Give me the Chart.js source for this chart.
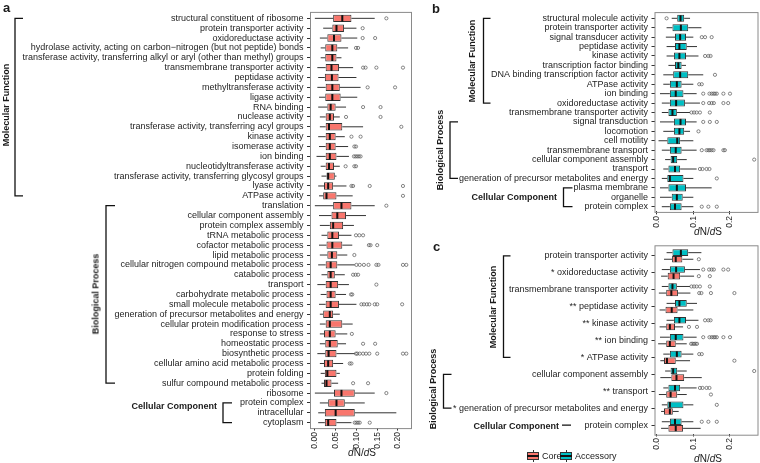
<!DOCTYPE html>
<html>
<head>
<meta charset="utf-8">
<title>dN/dS by GO category</title>
<script src="https://cdn.jsdelivr.net/npm/chart.js@4.4.1/dist/chart.umd.min.js"></script>
<style>
  html, body { margin: 0; padding: 0; background: #fff; }
  #fig { position: relative; width: 760px; height: 463px; overflow: hidden;
         font-family: "Liberation Sans", Arial, Helvetica, sans-serif; color: #1a1a1a; }
  #fig canvas { position: absolute; }
  .txt { position: absolute; white-space: nowrap; line-height: 1; }
  .letter { font-size: 13px; font-weight: bold; }
  .group { font-size: 9px; font-weight: bold; }
  .rot { transform: translate(-50%, -50%) rotate(-90deg); }
  .right { transform: translate(-100%, -50%); }
  .mid { transform: translate(-50%, -50%); }
  .axis-title { font-size: 10px; }
  .legend-text { font-size: 9px; transform: translateY(-50%); }
  .key { position: absolute; width: 12px; height: 12px; transform: translateY(-50%); }
  .key .wh { position: absolute; left: 5.5px; top: 0; width: 1px; height: 12px; background: #333; }
  .key .bx { position: absolute; left: 0; top: 2px; width: 10px; height: 6px; border: 1px solid #333; }
  .key .md { position: absolute; left: 0; top: 5.25px; width: 12px; height: 1.5px; background: #111; }
</style>
</head>
<body>
<div id="fig">
  <canvas id="chartA" width="415" height="463" style="left:0;top:0"></canvas>
  <canvas id="chartB" width="345" height="240" style="left:415px;top:0"></canvas>
  <canvas id="chartC" width="345" height="228" style="left:415px;top:235px"></canvas>

  <div class="txt letter" style="left:3px;top:1px">a</div>
  <div class="txt group rot" style="left:5.5px;top:105px">Molecular Function</div>
  <div class="txt group rot" style="left:95.5px;top:294px">Biological Process</div>
  <div class="txt group right" style="left:217px;top:406px">Cellular Component</div>
  <div class="txt axis-title mid" style="left:362px;top:453px"><i>d</i>N/<i>d</i>S</div>

  <div class="txt letter" style="left:432px;top:2px">b</div>
  <div class="txt group rot" style="left:471.5px;top:61px">Molecular Function</div>
  <div class="txt group rot" style="left:440px;top:150px">Biological Process</div>
  <div class="txt group right" style="left:557px;top:197px">Cellular Component</div>
  <div class="txt axis-title mid" style="left:708px;top:231.5px"><i>d</i>N/<i>d</i>S</div>

  <div class="txt letter" style="left:433px;top:240px">c</div>
  <div class="txt group rot" style="left:493px;top:306.5px">Molecular Function</div>
  <div class="txt group rot" style="left:433px;top:389px">Biological Process</div>
  <div class="txt group right" style="left:559px;top:426px">Cellular Component</div>
  <div class="txt axis-title mid" style="left:708px;top:459px"><i>d</i>N/<i>d</i>S</div>

  <div class="key" style="left:527px;top:456px"><div class="wh"></div><div class="bx" style="background:#F8766D"></div><div class="md"></div></div>
  <div class="txt legend-text" style="left:542px;top:456px">Core</div>
  <div class="key" style="left:560px;top:456px"><div class="wh"></div><div class="bx" style="background:#00BFC4"></div><div class="md"></div></div>
  <div class="txt legend-text" style="left:575px;top:456px">Accessory</div>
</div>

<script>
// ---- panel a: core genes, one box per GO term ----
const aLabels = [
  'structural constituent of ribosome', 'protein transporter activity', 'oxidoreductase activity',
  'hydrolase activity, acting on carbon\u2212nitrogen (but not peptide) bonds',
  'transferase activity, transferring alkyl or aryl (other than methyl) groups',
  'transmembrane transporter activity', 'peptidase activity', 'methyltransferase activity',
  'ligase activity', 'RNA binding', 'nuclease activity', 'transferase activity, transferring acyl groups',
  'kinase activity', 'isomerase activity', 'ion binding', 'nucleotidyltransferase activity',
  'transferase activity, transferring glycosyl groups', 'lyase activity', 'ATPase activity',
  'translation', 'cellular component assembly', 'protein complex assembly', 'tRNA metabolic process',
  'cofactor metabolic process', 'lipid metabolic process', 'cellular nitrogen compound metabolic process',
  'catabolic process', 'transport', 'carbohydrate metabolic process', 'small molecule metabolic process',
  'generation of precursor metabolites and energy', 'cellular protein modification process',
  'response to stress', 'homeostatic process', 'biosynthetic process', 'cellular amino acid metabolic process',
  'protein folding', 'sulfur compound metabolic process',
  'ribosome', 'protein complex', 'intracellular', 'cytoplasm'
];
const aLow  = [0.000, 0.020, 0.012, 0.014, 0.014, 0.006, 0.008, 0.006, 0.010, 0.008, 0.012, 0.012, 0.008, 0.010,
               0.004, 0.014, 0.016, 0.008, 0.010, 0.000, 0.010, 0.012, 0.016, 0.010, 0.012, 0.008, 0.016, 0.006,
               0.014, 0.010, 0.012, 0.012, 0.012, 0.012, 0.006, 0.012, 0.014, 0.016, 0.000, 0.012, 0.008, 0.008];
const aQ1   = [0.044, 0.042, 0.030, 0.025, 0.025, 0.026, 0.024, 0.026, 0.025, 0.030, 0.026, 0.026, 0.026, 0.026,
               0.026, 0.026, 0.028, 0.022, 0.020, 0.044, 0.040, 0.036, 0.030, 0.028, 0.030, 0.026, 0.030, 0.026,
               0.028, 0.026, 0.020, 0.026, 0.022, 0.025, 0.025, 0.022, 0.024, 0.022, 0.046, 0.032, 0.024, 0.024];
const aMed  = [0.066, 0.052, 0.046, 0.042, 0.042, 0.040, 0.041, 0.042, 0.042, 0.038, 0.036, 0.034, 0.036, 0.036,
               0.036, 0.034, 0.032, 0.032, 0.028, 0.064, 0.054, 0.044, 0.042, 0.042, 0.041, 0.038, 0.038, 0.038,
               0.038, 0.038, 0.036, 0.036, 0.036, 0.036, 0.033, 0.032, 0.030, 0.028, 0.064, 0.052, 0.050, 0.032];
const aQ3   = [0.088, 0.070, 0.064, 0.054, 0.052, 0.058, 0.057, 0.060, 0.062, 0.050, 0.046, 0.066, 0.050, 0.050,
               0.052, 0.046, 0.048, 0.044, 0.052, 0.088, 0.075, 0.068, 0.058, 0.066, 0.054, 0.054, 0.048, 0.056,
               0.050, 0.058, 0.044, 0.066, 0.050, 0.055, 0.052, 0.044, 0.052, 0.040, 0.096, 0.072, 0.096, 0.052];
const aHigh = [0.144, 0.100, 0.102, 0.080, 0.064, 0.092, 0.100, 0.110, 0.102, 0.075, 0.060, 0.116, 0.072, 0.080,
               0.082, 0.060, 0.052, 0.076, 0.091, 0.144, 0.123, 0.094, 0.088, 0.090, 0.078, 0.096, 0.072, 0.082,
               0.075, 0.100, 0.060, 0.091, 0.078, 0.075, 0.096, 0.068, 0.060, 0.056, 0.144, 0.120, 0.196, 0.088];
const aOutliers = [
  [0.172], [0.115], [0.115, 0.145], [0.099, 0.104], [], [0.116, 0.122, 0.148, 0.212], [], [0.127, 0.193], [],
  [0.116, 0.158], [0.075, 0.158], [0.208], [0.088, 0.110], [0.095, 0.099], [0.094, 0.098, 0.102, 0.106, 0.110],
  [0.074, 0.095, 0.099], [], [0.088, 0.092, 0.132, 0.212], [0.212],
  [0.172], [], [], [0.099, 0.107, 0.116], [0.130, 0.134, 0.150], [0.095],
  [0.100, 0.108, 0.118, 0.129, 0.148, 0.153, 0.212, 0.220], [0.092, 0.098, 0.104], [0.148], [0.087, 0.090],
  [0.112, 0.118, 0.125, 0.131, 0.144, 0.150, 0.210], [], [], [0.089], [0.116, 0.145],
  [0.099, 0.102, 0.108, 0.116, 0.123, 0.131, 0.150, 0.212, 0.220], [0.084, 0.088], [], [0.092, 0.128],
  [0.172], [], [], [0.096, 0.100, 0.104, 0.108, 0.132]
];

// ---- panel b: accessory genes ----
const bLabels = [
  'structural molecule activity', 'protein transporter activity', 'signal transducer activity',
  'peptidase activity', 'kinase activity', 'transcription factor binding',
  'DNA binding transcription factor activity', 'ATPase activity', 'ion binding', 'oxidoreductase activity',
  'transmembrane transporter activity', 'signal transduction', 'locomotion', 'cell motility',
  'transmembrane transport', 'cellular component assembly', 'transport',
  'generation of precursor metabolites and energy', 'plasma membrane', 'organelle', 'protein complex'
];
const bLow  = [0.041, 0.027, 0.025, 0.027, 0.027, 0.032, 0.018, 0.018, 0.009, 0.014, 0.014,
               0.009, 0.018, 0.005, 0.014, 0.023, 0.018, 0.014, 0.009, 0.009, 0.014];
const bQ1   = [0.056, 0.043, 0.050, 0.050, 0.047, 0.050, 0.045, 0.036, 0.036, 0.036, 0.032,
               0.047, 0.047, 0.029, 0.036, 0.038, 0.032, 0.029, 0.032, 0.041, 0.036];
const bMed  = [0.065, 0.066, 0.064, 0.062, 0.062, 0.059, 0.064, 0.055, 0.052, 0.053, 0.043,
               0.065, 0.062, 0.056, 0.052, 0.045, 0.050, 0.036, 0.055, 0.055, 0.050];
const bQ3   = [0.075, 0.086, 0.080, 0.082, 0.080, 0.068, 0.086, 0.068, 0.073, 0.077, 0.055,
               0.080, 0.075, 0.064, 0.068, 0.056, 0.064, 0.073, 0.080, 0.071, 0.068];
const bHigh = [0.091, 0.122, 0.100, 0.110, 0.114, 0.080, 0.127, 0.100, 0.109, 0.118, 0.091,
               0.109, 0.091, 0.100, 0.109, 0.082, 0.109, 0.100, 0.150, 0.100, 0.100];
const bOutliers = [
  [0.027], [], [0.123, 0.132, 0.150], [], [0.132, 0.141, 0.147], [], [0.159], [0.116, 0.123],
  [0.127, 0.144, 0.150, 0.155, 0.159, 0.164, 0.182, 0.200],
  [0.127, 0.143, 0.150, 0.156, 0.182, 0.195], [0.095, 0.102, 0.109, 0.118, 0.145],
  [0.127, 0.145, 0.164], [0.114], [], [0.123, 0.136, 0.141, 0.145, 0.150, 0.155, 0.182, 0.186],
  [0.266], [0.118, 0.125, 0.136, 0.144], [0.164], [], [], [0.123, 0.141, 0.164]
];

// ---- panel c: terms shared by both gene sets (values taken from a and b) ----
const cKeys = [
  'protein transporter activity', 'oxidoreductase activity', 'transmembrane transporter activity',
  'peptidase activity', 'kinase activity', 'ion binding', 'ATPase activity',
  'cellular component assembly', 'transport', 'generation of precursor metabolites and energy', 'protein complex'
];
const cLabels = [
  'protein transporter activity', '* oxidoreductase activity', 'transmembrane transporter activity',
  '** peptidase activity', '** kinase activity', '** ion binding', '* ATPase activity',
  'cellular component assembly', '** transport', '* generation of precursor metabolites and energy',
  'protein complex'
];

const xTicksA = [0, 0.05, 0.10, 0.15, 0.20];
const xTicksBC = [0, 0.1, 0.2];

const CORE = '#F8766D';
const ACCESSORY = '#00BFC4';
const FONT = { family: '"Liberation Sans", Arial, sans-serif', size: 9 };
const XFONT = { family: '"Liberation Sans", Arial, sans-serif', size: 8.5 };

function boxDataset(label, color, s, catPct) {
  return {
    label: label,
    data: s.q1.map((v, i) => [v, s.q3[i]]),
    low: s.low, med: s.med, high: s.high, outliers: s.outliers,
    backgroundColor: color,
    borderColor: '#333',
    borderWidth: 1,
    borderSkipped: false,
    inflateAmount: 0,
    barPercentage: 1,
    categoryPercentage: catPct
  };
}

// whiskers, medians, outliers, panel border and the GO brackets
const boxExtras = {
  id: 'boxExtras',
  afterDatasetsDraw(chart) {
    const ctx = chart.ctx;
    const xs = chart.scales.x;
    const px = v => xs.getPixelForValue(v);
    chart.data.datasets.forEach((ds, di) => {
      chart.getDatasetMeta(di).data.forEach((bar, i) => {
        const y = bar.y, h = bar.height;
        ctx.save();
        ctx.strokeStyle = '#333';
        ctx.lineWidth = 1;
        ctx.beginPath();
        ctx.moveTo(px(ds.low[i]), y); ctx.lineTo(px(ds.data[i][0]), y);
        ctx.moveTo(px(ds.data[i][1]), y); ctx.lineTo(px(ds.high[i]), y);
        ctx.stroke();
        ctx.strokeStyle = '#111';
        ctx.lineWidth = 2;
        ctx.beginPath();
        ctx.moveTo(px(ds.med[i]), y - h / 2 + 0.5);
        ctx.lineTo(px(ds.med[i]), y + h / 2 - 0.5);
        ctx.stroke();
        ctx.strokeStyle = '#555';
        ctx.lineWidth = 0.7;
        ds.outliers[i].forEach(v => {
          ctx.beginPath();
          ctx.arc(px(v), y, 1.6, 0, Math.PI * 2);
          ctx.stroke();
        });
        ctx.restore();
      });
    });
  },
  afterDraw(chart, args, opts) {
    const ctx = chart.ctx;
    const ca = chart.chartArea;
    const ys = chart.scales.y;
    const pad = opts.expand || 0;
    ctx.save();
    ctx.strokeStyle = '#8a8a8a';
    ctx.lineWidth = 1;
    ctx.strokeRect(ca.left, ca.top - pad, ca.right - ca.left, ca.bottom - ca.top + 2 * pad);
    ctx.strokeStyle = '#111';
    ctx.lineWidth = 1.3;
    (opts.brackets || []).forEach(b => {
      const y0 = ys.getPixelForValue(b.from), y1 = ys.getPixelForValue(b.to);
      ctx.beginPath();
      ctx.moveTo(b.x + b.len, y0); ctx.lineTo(b.x, y0);
      ctx.lineTo(b.x, y1); ctx.lineTo(b.x + b.len, y1);
      ctx.stroke();
    });
    ctx.restore();
  }
};

function makeChart(id, labels, datasets, o) {
  return new Chart(document.getElementById(id), {
    type: 'bar',
    data: { labels: labels, datasets: datasets },
    options: {
      indexAxis: 'y',
      responsive: false,
      animation: false,
      layout: { padding: { left: 0, right: o.right, top: o.top, bottom: 0 } },
      plugins: {
        legend: { display: false },
        tooltip: { enabled: false },
        boxExtras: { brackets: o.brackets, expand: o.expand }
      },
      scales: {
        x: {
          type: 'linear',
          min: o.xMin,
          max: o.xMax,
          afterBuildTicks: s => { s.ticks = o.xTicks.map(v => ({ value: v })); },
          afterFit: s => { s.height = o.xHeight; },
          border: { display: false },
          grid: { drawOnChartArea: false, tickLength: 3, color: '#333' },
          ticks: {
            minRotation: 90, maxRotation: 90, padding: 1.5, autoSkip: false,
            color: '#1e1e1e', font: XFONT,
            callback: v => Number(v).toFixed(o.digits)
          }
        },
        y: {
          type: 'category',
          afterFit: s => { s.width = o.yWidth; },
          border: { display: false },
          grid: { drawOnChartArea: false, offset: false, tickLength: 3.5, color: '#333' },
          ticks: { autoSkip: false, padding: 3.5, color: '#1e1e1e', font: FONT }
        }
      }
    },
    plugins: [boxExtras]
  });
}

makeChart('chartA', aLabels,
  [boxDataset('Core', CORE,
    { low: aLow, q1: aQ1, med: aMed, q3: aQ3, high: aHigh, outliers: aOutliers }, 0.75)],
  {
    xMin: -0.0105, xMax: 0.2325, xTicks: xTicksA, digits: 2,
    yWidth: 310.5, right: 3.5, top: 13.4, xHeight: 35.4, expand: 1,
    brackets: [
      { from: 0, to: 18, x: 15, len: 8 },
      { from: 19, to: 37, x: 106, len: 9 },
      { from: 39, to: 41, x: 223, len: 9 }
    ]
  });

makeChart('chartB', bLabels,
  [boxDataset('Accessory', ACCESSORY,
    { low: bLow, q1: bQ1, med: bMed, q3: bQ3, high: bHigh, outliers: bOutliers }, 0.75)],
  {
    xMin: -0.0046, xMax: 0.2764, xTicks: xTicksBC, digits: 1,
    yWidth: 240, right: 2, top: 13.6, xHeight: 28.6, expand: 1,
    brackets: [
      { from: 0, to: 9, x: 68.5, len: 7 },
      { from: 11, to: 17, x: 35, len: 8 },
      { from: 18, to: 20, x: 148.5, len: 9 }
    ]
  });

const fromA = cKeys.map(k => aLabels.indexOf(k));
const fromB = cKeys.map(k => bLabels.indexOf(k));
const pick = (arr, idx) => idx.map(i => arr[i]);

makeChart('chartC', cLabels, [
  boxDataset('Accessory', ACCESSORY, {
    low: pick(bLow, fromB), q1: pick(bQ1, fromB), med: pick(bMed, fromB),
    q3: pick(bQ3, fromB), high: pick(bHigh, fromB), outliers: pick(bOutliers, fromB)
  }, 0.78),
  boxDataset('Core', CORE, {
    low: pick(aLow, fromA), q1: pick(aQ1, fromA), med: pick(aMed, fromA),
    q3: pick(aQ3, fromA), high: pick(aHigh, fromA), outliers: pick(aOutliers, fromA)
  }, 0.78)
], {
  xMin: -0.0046, xMax: 0.2764, xTicks: xTicksBC, digits: 1,
  yWidth: 240, right: 2, top: 12.5, xHeight: 29.5, expand: 1.7,
  brackets: [
    { from: 0, to: 6, x: 88.5, len: 7 },
    { from: 7, to: 9, x: 28.5, len: 8 },
    { from: 10, to: 10, x: 147, len: 9 }
  ]
});
</script>
</body>
</html>
